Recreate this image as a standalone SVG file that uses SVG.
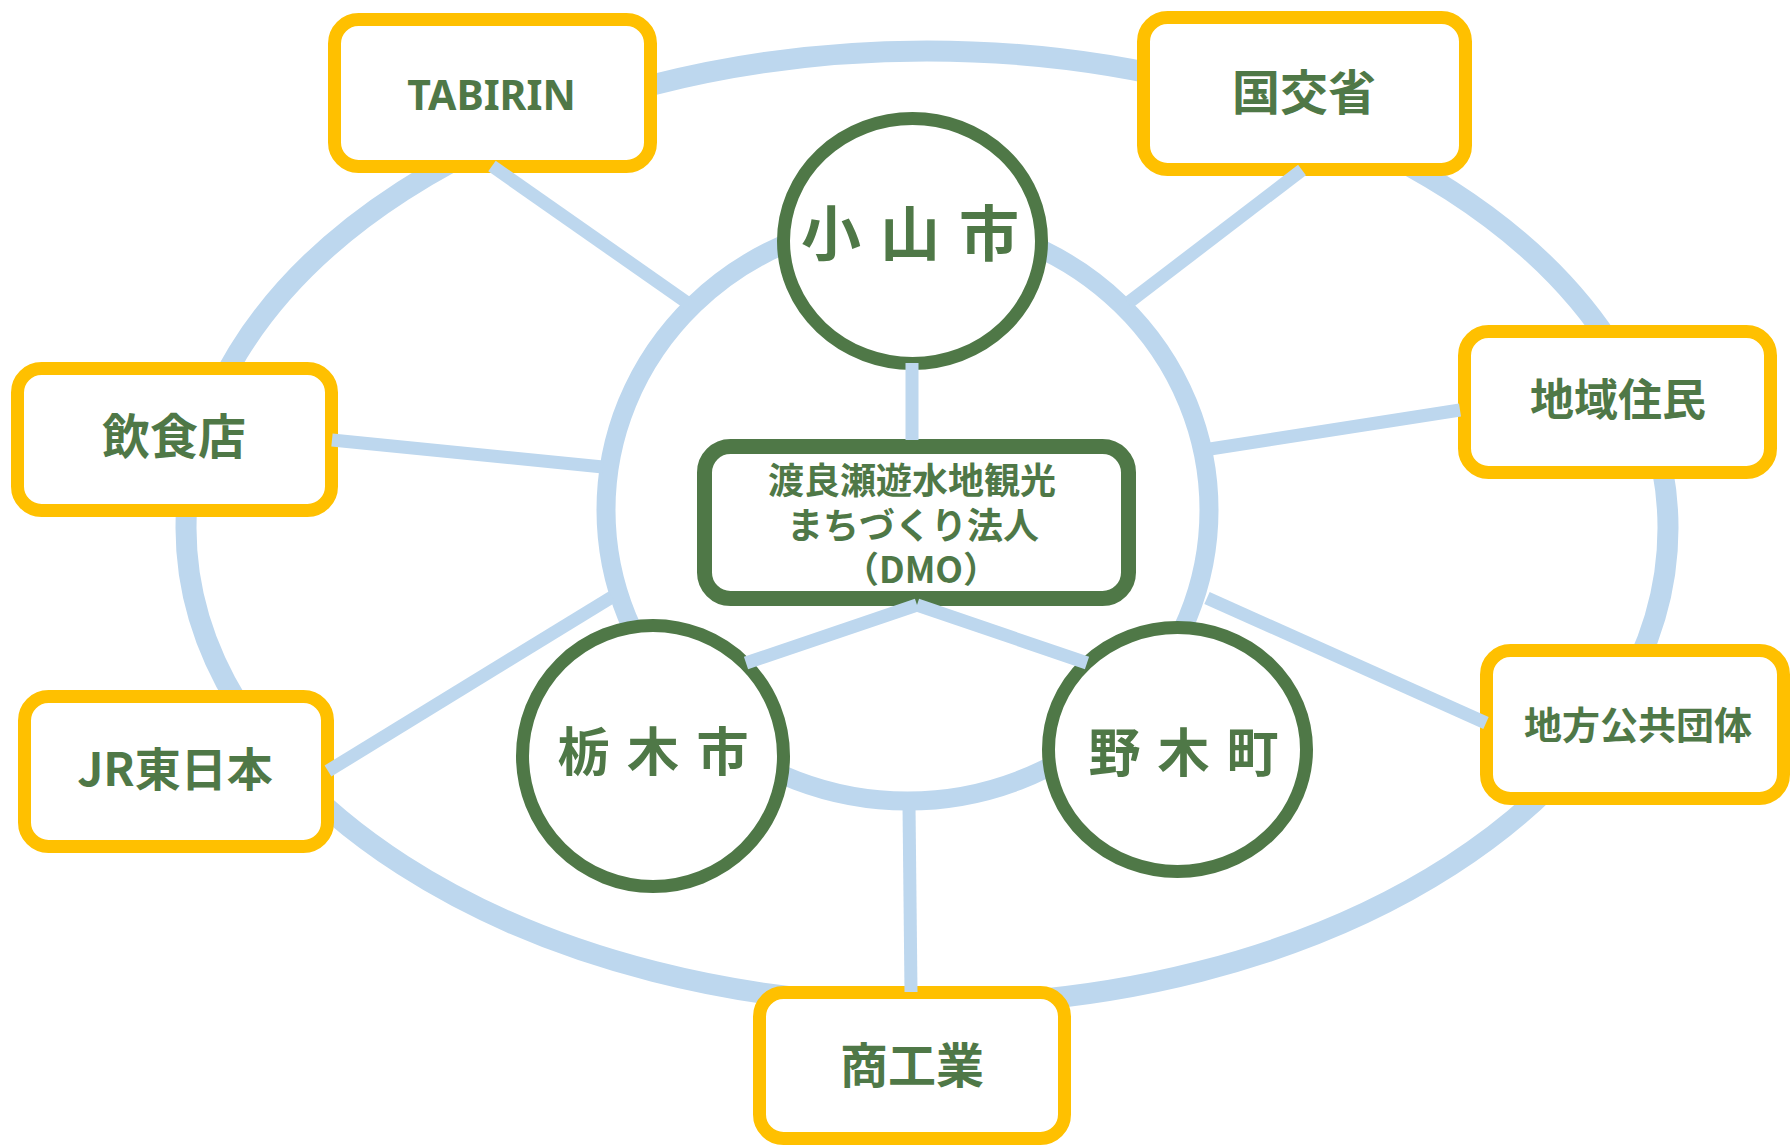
<svg xmlns="http://www.w3.org/2000/svg" width="1791" height="1145" viewBox="0 0 1791 1145">
<style>
.ring{fill:none;stroke:#BDD7EE}
.ybox{fill:#FFFFFF;stroke:#FFC000;stroke-width:13}
.gcirc{fill:#FFFFFF;stroke:#4F7847;stroke-width:13}
.gbox{fill:#FFFFFF;stroke:#4F7847;stroke-width:15}
.conn{stroke:#BDD7EE;stroke-width:13;stroke-linecap:butt;fill:none}
.t{fill:#4F7847;font-family:"Noto Sans CJK JP","Noto Sans",sans-serif;font-weight:bold;text-anchor:middle}
.tl{fill:#4F7847;font-family:"Noto Sans","Noto Sans CJK JP",sans-serif;font-weight:bold;text-anchor:middle}
.ts{fill:#4F7847;font-family:"Noto Sans CJK JP","Noto Sans",sans-serif;font-weight:bold;text-anchor:start}
</style>
<rect width="1791" height="1145" fill="#FFFFFF"/>
<g id="rings">
<ellipse class="ring" cx="927" cy="528" rx="741" ry="477" stroke-width="21"/>
<ellipse class="ring" cx="907.5" cy="510" rx="301.5" ry="291" stroke-width="19"/>
</g>
<g id="node-tabirin">
<rect class="ybox" x="334.5" y="19.5" width="316" height="147" rx="24"/>
<text class="tl" x="491.5" y="110" font-size="41">TABIRIN</text>
</g>
<g id="node-kokkosho">
<rect class="ybox" x="1143.5" y="17.5" width="322" height="152" rx="24"/>
<text class="t" x="1304" y="110" font-size="48">国交省</text>
</g>
<g id="node-inshokuten">
<rect class="ybox" x="17.5" y="368.5" width="314" height="142" rx="24"/>
<text class="t" x="174" y="454" font-size="48">飲食店</text>
</g>
<g id="node-jr">
<rect class="ybox" x="24.5" y="696.5" width="303" height="150" rx="24"/>
<text class="t" x="175" y="786" font-size="46">JR東日本</text>
</g>
<g id="node-chiikijumin">
<rect class="ybox" x="1464.5" y="331.5" width="306" height="141" rx="24"/>
<text class="t" x="1618" y="416" font-size="44">地域住民</text>
</g>
<g id="node-chihokokyodantai">
<rect class="ybox" x="1486.5" y="650.5" width="297" height="148" rx="24"/>
<text class="t" x="1638" y="738.5" font-size="38">地方公共団体</text>
</g>
<g id="node-shokogyo">
<rect class="ybox" x="759.5" y="992.5" width="305" height="146" rx="24"/>
<text class="t" x="912" y="1083" font-size="48">商工業</text>
</g>
<g id="node-oyama">
<ellipse class="gcirc" cx="912.5" cy="241" rx="129" ry="122.5"/>
<text class="ts" x="801" y="256" font-size="60" letter-spacing="19">小山市</text>
</g>
<g id="node-tochigi">
<ellipse class="gcirc" cx="653" cy="756" rx="130.5" ry="130.5"/>
<text class="ts" x="557.5" y="771" font-size="52" letter-spacing="17.5">栃木市</text>
</g>
<g id="node-nogi">
<ellipse class="gcirc" cx="1177.5" cy="749.5" rx="129" ry="122"/>
<text class="ts" x="1088.5" y="772" font-size="52" letter-spacing="17">野木町</text>
</g>
<g id="node-dmo">
<rect class="gbox" x="704.5" y="446.5" width="424" height="152" rx="26"/>
<text class="t" x="912" y="494" font-size="36">渡良瀬遊水地観光</text>
<text class="t" x="913" y="539" font-size="36">まちづくり法人</text>
<text class="t" x="921" y="583" font-size="36">（DMO）</text>
</g>
<g id="connectors">
<line class="conn" x1="492" y1="166" x2="689" y2="304"/>
<line class="conn" x1="1302" y1="170" x2="1128" y2="303"/>
<line class="conn" x1="332" y1="440" x2="603" y2="467"/>
<line class="conn" x1="1460" y1="410" x2="1210" y2="449"/>
<line class="conn" x1="328" y1="771" x2="612" y2="597"/>
<line class="conn" x1="1486" y1="723" x2="1207" y2="598"/>
<line class="conn" x1="911" y1="992" x2="909" y2="806"/>
<line class="conn" x1="912" y1="363" x2="912" y2="440"/>
<line class="conn" x1="917" y1="605" x2="746" y2="663"/>
<line class="conn" x1="917" y1="605" x2="1087" y2="663"/>
</g>
</svg>
